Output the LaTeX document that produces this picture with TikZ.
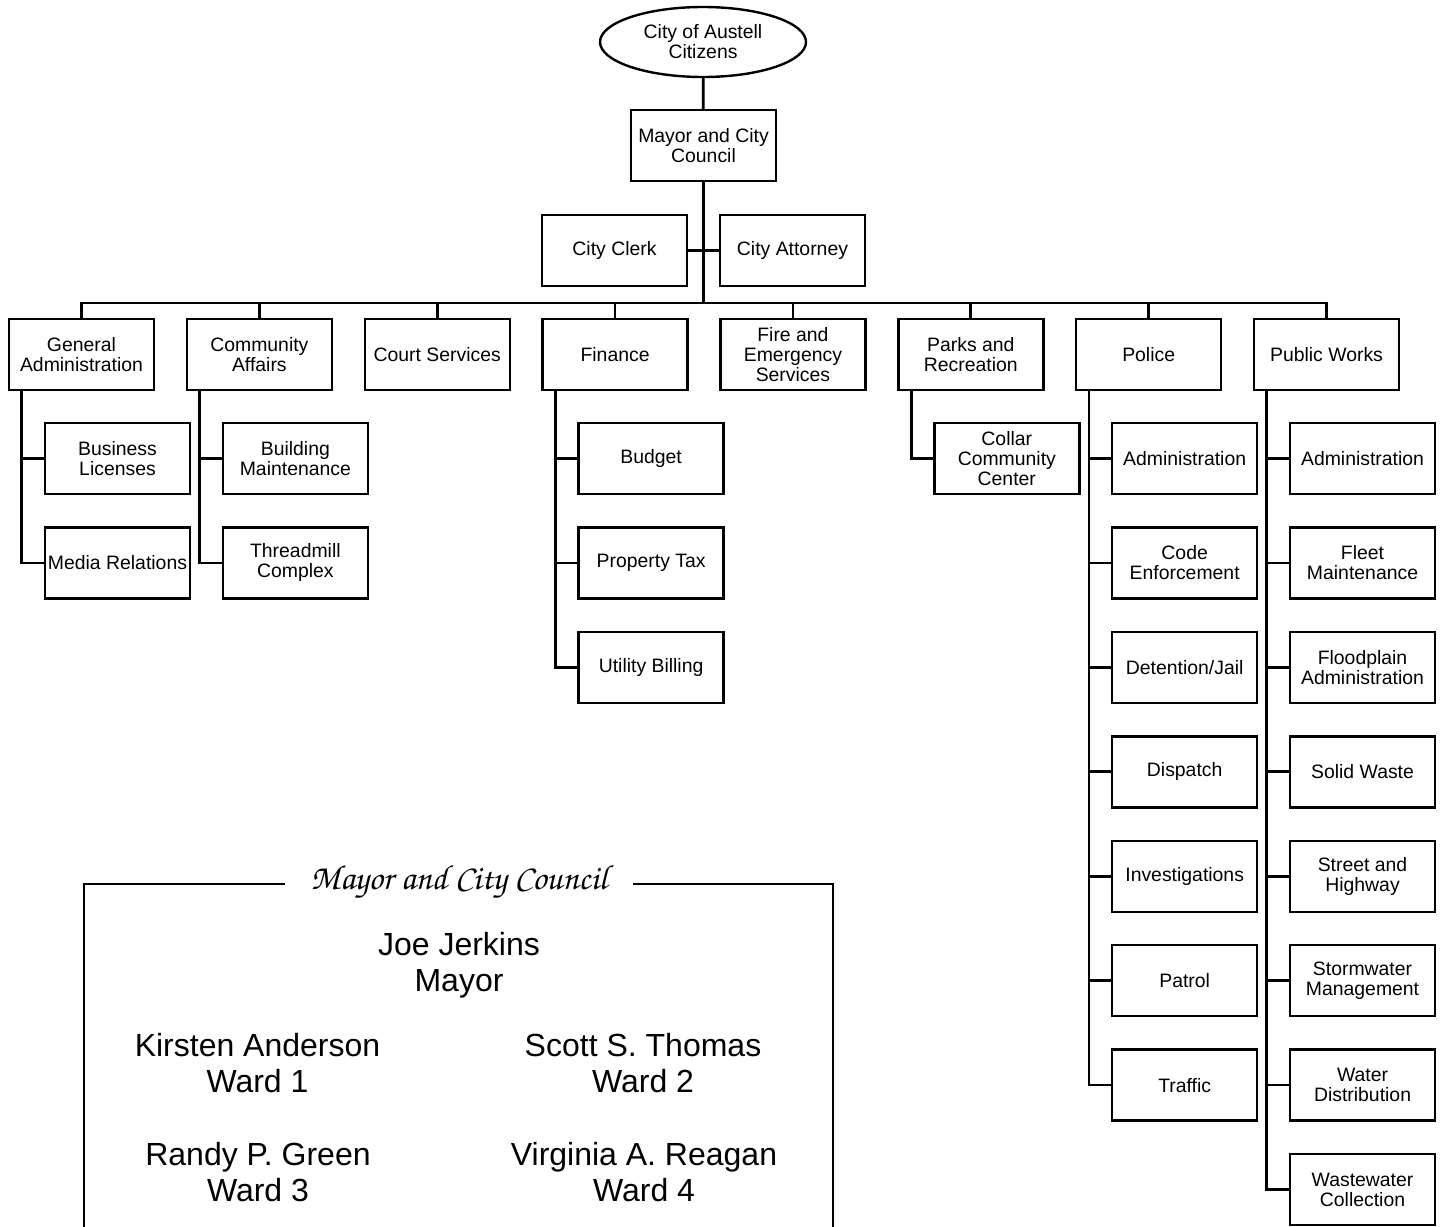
\documentclass[tikz,border=0pt]{standalone}
\usepackage{fontspec}
\setmainfont{Liberation Sans}
\usetikzlibrary{shapes.geometric}
\newcommand{\scriptttl}{\fontencoding{T1}\fontfamily{pzc}\fontseries{mb}\fontshape{it}\selectfont}
\begin{document}
\begin{tikzpicture}[x=1pt,y=-1pt,
  box/.style={draw,line width=2.4pt,minimum width=145pt,minimum height=71pt,inner sep=0pt,align=center,font=\fontsize{19.4}{20}\selectfont},
  oval/.style={draw,ellipse,line width=2.4pt,minimum width=206pt,minimum height=70pt,inner sep=0pt,align=center,font=\fontsize{19.4}{20}\selectfont},
  conn/.style={line width=2.8pt},
  frame/.style={line width=2pt},
  person/.style={align=center,font=\fontsize{32}{36}\selectfont,inner sep=0pt}]
\useasboundingbox (0,0) rectangle (1445,1226);

\node[oval] (cit) at (703,42) {City of Austell\\Citizens};
\node[box] (mayor) at (703.5,145.5) {Mayor and City\\Council};
\node[box] (clerk) at (614.5,250.5) {City Clerk};
\node[box] (atty) at (792.5,250.5) {City Attorney};
\coordinate (bus) at (703.5,303);

\draw[conn] (cit) -- (mayor);
\draw[conn] (mayor.south) -- (bus);
\draw[conn] (clerk.east) -- (atty.west);

% departments
\foreach \name/\txt [count=\i from 0] in {ga/General\\Administration, ca/Community\\Affairs, cs/Court Services, fin/Finance, fire/Fire and\\Emergency\\Services, parks/Parks and\\Recreation, pol/Police, pw/Public Works}{
  \node[box] (\name) at ({81.5+177.86*\i},354.5) {\txt};
  \draw[conn] (\name.north) |- (bus);
}

% sub-units
\newcommand{\subunits}[2]{%
  \foreach \stxt [count=\j from 0] in {#2}{
    \node[box] (#1-\j) at ([xshift=36pt]#1.center |- 0,{458.5+104.43*\j}) {\stxt};
    \draw[conn] ([xshift=14pt]#1.south west) |- (#1-\j.west);
  }%
}
\subunits{ga}{Business\\Licenses, Media Relations}
\subunits{ca}{Building\\Maintenance, Threadmill\\Complex}
\subunits{fin}{Budget, Property Tax, Utility Billing}
\subunits{parks}{Collar\\Community\\Center}
\subunits{pol}{Administration, Code\\Enforcement, Detention/Jail, Dispatch, Investigations, Patrol, Traffic}
\subunits{pw}{Administration, Fleet\\Maintenance, Floodplain\\Administration, Solid Waste, Street and\\Highway, Stormwater\\Management, Water\\Distribution, Wastewater\\Collection}

% council panel
\node[inner xsep=25pt,inner ysep=0pt,font={\scriptttl\fontsize{35}{38}\selectfont}] (ttl) at (459,882) {Mayor and City Council};
\coordinate (fbl) at (84,1232);
\coordinate (fbr) at (833,1232);
\draw[frame] (ttl.west |- 0,884) -| (fbl);
\draw[frame] (ttl.east |- 0,884) -| (fbr);

\node[person] (jj) at (459,965) {Joe Jerkins\\Mayor};
\node[person] (ka) at (257.5,1063) {Kirsten Anderson\\Ward 1};
\node[person] (st) at (643,1063) {Scott S. Thomas\\Ward 2};
\node[person] (rg) at (258,1172) {Randy P. Green\\Ward 3};
\node[person] (vr) at (644,1172) {Virginia A. Reagan\\Ward 4};
\end{tikzpicture}
\end{document}
